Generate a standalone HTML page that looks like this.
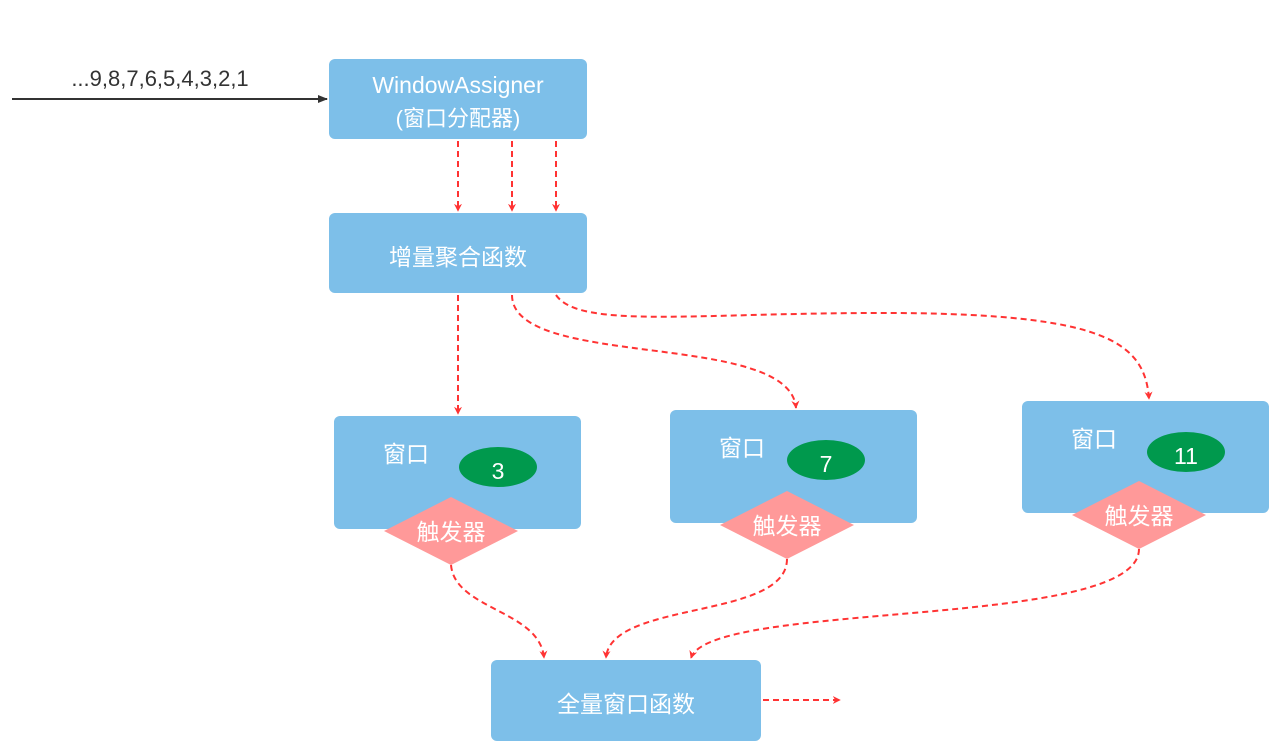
<!DOCTYPE html>
<html><head><meta charset="utf-8"><style>body{margin:0;background:#fff}svg{display:block}text{font-family:"Liberation Sans","Noto Sans CJK SC",sans-serif}</style></head><body>
<svg width="1284" height="754" viewBox="0 0 1284 754">
<defs>
<marker id="r" viewBox="0 0 10 10" refX="9" refY="5" markerWidth="4" markerHeight="4" orient="auto"><path d="M0,0L10,5L0,10L3,5z" fill="#ff3333"/></marker>
<marker id="k" viewBox="0 0 10 10" refX="9" refY="5" markerWidth="5" markerHeight="5" orient="auto"><path d="M0,1L10,5L0,9z" fill="#333"/></marker>
</defs>
<g fill="#7dbfe9">
<rect x="329" y="59" width="258" height="80" rx="6"/>
<rect x="329" y="213" width="258" height="80" rx="6"/>
<rect x="334" y="416" width="247" height="113" rx="6"/>
<rect x="670" y="410" width="247" height="113" rx="6"/>
<rect x="1022" y="401" width="247" height="112" rx="6"/>
<rect x="491" y="660" width="270" height="81" rx="6"/>
</g>
<line x1="12" y1="99" x2="327" y2="99" stroke="#333" stroke-width="2" marker-end="url(#k)"/>
<text x="160" y="86" font-size="22" fill="#333" text-anchor="middle">...9,8,7,6,5,4,3,2,1</text>
<g fill="#fff" text-anchor="middle">
<text x="458" y="93" font-size="23">WindowAssigner</text>
<text x="458" y="126" font-size="22">(窗口分配器)</text>
<text x="458" y="265" font-size="23">增量聚合函数</text>
<text x="626" y="712" font-size="23">全量窗口函数</text>
<text x="406" y="462" font-size="23">窗口</text>
<text x="742" y="456" font-size="23">窗口</text>
<text x="1094" y="447" font-size="23">窗口</text>
</g>
<g fill="#00994d"><ellipse cx="498" cy="467" rx="39" ry="20"/><ellipse cx="826" cy="460" rx="39" ry="20"/><ellipse cx="1186" cy="452" rx="39" ry="20"/></g>
<g fill="#ff9999"><polygon points="384,531 451,497 518,531 451,565"/><polygon points="720,525 787,491 854,525 787,559"/><polygon points="1072,515 1139,481 1206,515 1139,549"/></g>
<g fill="#fff" text-anchor="middle" font-size="23">
<text x="498" y="479">3</text><text x="826" y="472">7</text><text x="1186" y="464">11</text>
<text x="451" y="540">触发器</text><text x="787" y="534">触发器</text><text x="1139" y="524">触发器</text>
</g>
<g fill="none" stroke="#ff3333" stroke-width="2" stroke-dasharray="6,4" marker-end="url(#r)">
<line x1="458" y1="141" x2="458" y2="211"/>
<line x1="512" y1="141" x2="512" y2="211"/>
<line x1="556" y1="141" x2="556" y2="211"/>
<line x1="458" y1="295" x2="458" y2="414"/>
<path d="M512,295 C512,370 790,330 796,408"/>
<path d="M556,295 C580,330 700,312 900,313 C1100,315 1145,340 1149,399"/>
<path d="M451,565 C455,610 540,610 544,658"/>
<path d="M787,559 C787,620 610,600 606,658"/>
<path d="M1139,549 C1139,630 710,600 691,658"/>
<line x1="763" y1="700" x2="840" y2="700"/>
</g>
</svg>
</body></html>
